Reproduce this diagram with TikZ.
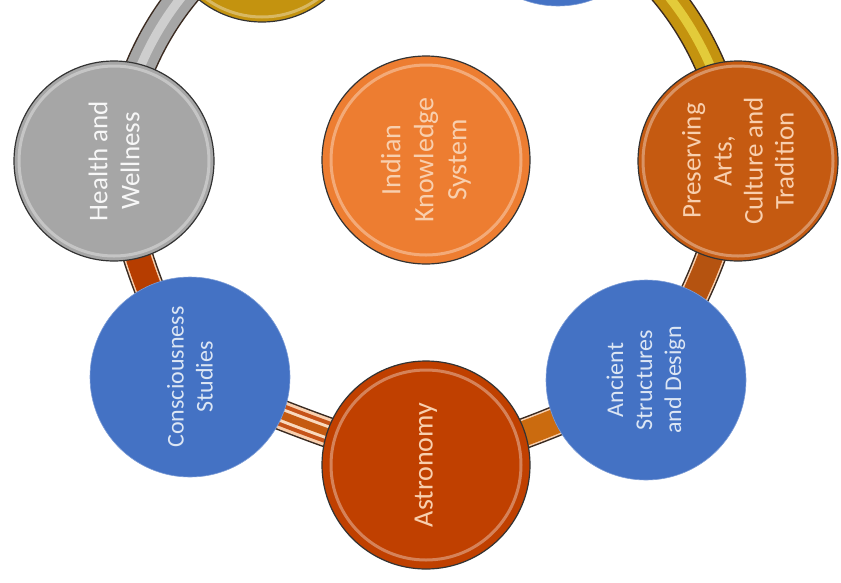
\documentclass[tikz,border=0pt]{standalone}
\usepackage{fontspec}
\setmainfont{Carlito}
\definecolor{cgray}{HTML}{A6A6A6}
\definecolor{corange}{HTML}{ED7D31}
\definecolor{cbrown}{HTML}{C55A11}
\definecolor{cred}{HTML}{C04000}
\definecolor{cblue}{HTML}{4472C4}
\definecolor{cgold}{HTML}{C4930F}
\definecolor{edge}{HTML}{3A2A20}
\definecolor{peach}{HTML}{F8CFAE}
\definecolor{lightblue}{HTML}{DCE6F4}
\tikzset{
  bandbase/.style={line width=31pt, draw=edge},
  bandgray/.style={bandbase, postaction={draw=cgray, line width=28pt}, postaction={draw=cgray!55!white, line width=9pt}},
  bandred/.style={bandbase, postaction={draw=peach, line width=28pt}, postaction={draw=cred!95!black, line width=25pt}},
  bandstripe/.style={bandbase, postaction={draw=peach, line width=28pt}, postaction={draw=cred!90!white, line width=22pt}, postaction={draw=peach!80!white, line width=14pt}, postaction={draw=cbrown, line width=8pt}},
  bandorange/.style={bandbase, postaction={draw=peach, line width=28pt}, postaction={draw=cbrown!90!yellow, line width=25pt}},
  bandbrown/.style={bandbase, postaction={draw=peach, line width=28pt}, postaction={draw=cbrown!92!black, line width=25pt}},
  bandgold/.style={bandbase, postaction={draw=cgold, line width=28pt}, postaction={draw=cgold!60!yellow!80!white, line width=9pt}},
  disc/.style={circle, inner sep=0pt, minimum size=200pt, fill=#1, draw=black!80, line width=1.2pt,
    path picture={\draw[white, opacity=.35, line width=3pt] (path picture bounding box.center) circle (95pt);}},
  flat/.style={circle, inner sep=0pt, minimum size=200pt, fill=cblue, draw=cblue!70!white, line width=0.6pt},
  lbl/.style={rotate=90, align=center, font=\fontsize{27}{32}\selectfont},
  blbl/.style={rotate=90, align=center, font=\fontsize{24}{29}\selectfont, text=lightblue}
}
\begin{document}
\begin{tikzpicture}[x=1pt,y=-1pt]
\useasboundingbox (0,0) rectangle (841,582);
\clip (0,0) rectangle (841,582);
\coordinate (g) at (262,-78);
\coordinate (bt) at (558,-94);
\coordinate (hw) at (114,161);
\coordinate (cs) at (190,377);
\coordinate (as) at (426,465);
\coordinate (an) at (646,380);
\coordinate (pa) at (738,161);
\coordinate (ik) at (426,160);
\draw[bandgray] (g) to[bend right=22] (hw);
\draw[bandred] (hw) to[bend right=8] (cs);
\draw[bandstripe] (cs) to[bend right=3] (as);
\draw[bandorange] (as) to[bend right=5] (an);
\draw[bandbrown] (an) to[bend right=10] (pa);
\draw[bandgold] (pa) to[bend right=25] (bt);
\node[disc=cgold] (gn) at (g) {};
\node[flat] (btn) at (bt) {};
\node[disc=cgray, lbl, text=white!94!gray] (hwn) at (hw) {Health and\\Wellness};
\node[disc=corange, lbl, minimum size=208pt, text=peach, font=\fontsize{28}{33}\selectfont] (ikn) at (ik) {Indian\\Knowledge\\System};
\node[disc=cbrown, lbl, text=peach, font=\fontsize{27}{31}\selectfont] (pan) at (pa) {Preserving\\Arts,\\Culture and\\Tradition};
\node[flat, blbl] (csn) at (cs) {Consciousness\\Studies};
\node[disc=cred, lbl, minimum size=208pt, text=peach, font=\fontsize{28}{33}\selectfont] (asn) at (as) {Astronomy};
\node[flat, blbl] (ann) at (an) {Ancient\\Structures\\and Design};
\end{tikzpicture}
\end{document}
